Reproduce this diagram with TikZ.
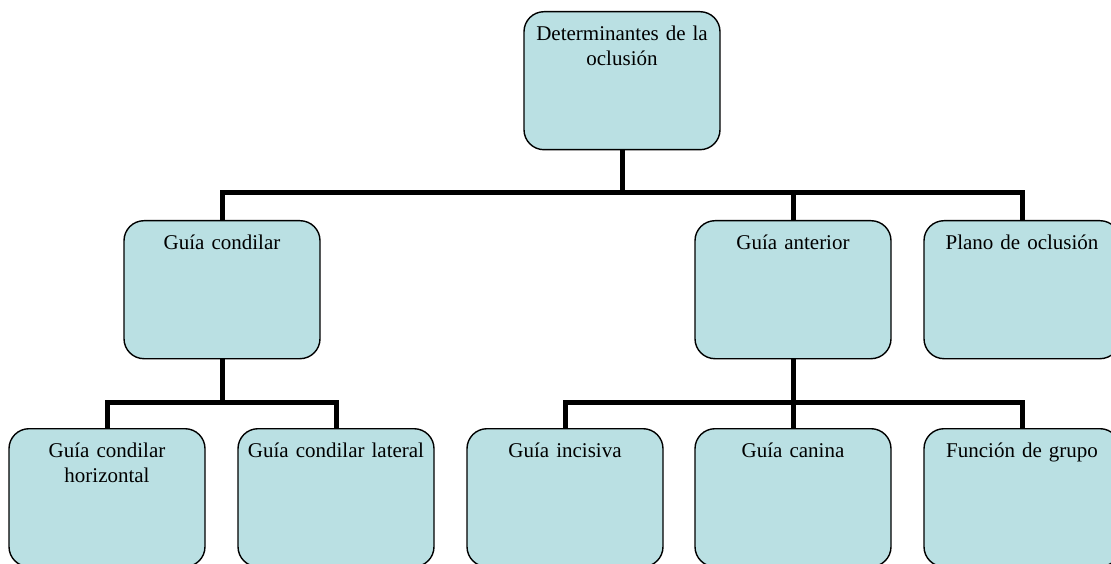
\documentclass[tikz,border=0pt]{standalone}
\usepackage{fontspec}
\setmainfont{Liberation Serif}
\definecolor{cajafill}{RGB}{186,224,227}

\begin{document}
\begin{tikzpicture}[
    x=1pt, y=-1pt,
    every node/.style={font=\fontsize{21}{25}\selectfont},
    caja/.style={draw, rounded corners=20pt, fill=cajafill, line width=1.4pt,
        anchor=north, text width=190pt, align=center,
        inner xsep=3pt, inner ysep=6pt, text height=23pt, text depth=103pt},
    conector/.style={line width=5pt}
]
\useasboundingbox (0,0) rectangle (1111,564);

% === BOXES ===
\node[caja] (det) at (622,11) {Determinantes de la\\oclusión};
\node[caja] (condilar) at (222,220) {Guía condilar};
\node[caja] (anterior) at (793,220) {Guía anterior};
\node[caja] (plano) at (1022,220) {Plano de oclusión};
\node[caja] (horiz) at (107,428) {Guía condilar\\horizontal};
\node[caja] (lateral) at (336,428) {Guía condilar lateral};
\node[caja] (incisiva) at (565,428) {Guía incisiva};
\node[caja] (canina) at (793,428) {Guía canina};
\node[caja] (grupo) at (1022,428) {Función de grupo};

% === BUS POINTS ===
\coordinate (bus1) at (622,193);
\coordinate (bus2) at (222,402);
\coordinate (bus3) at (793,402);

% === CONNECTORS ===
\draw[conector] (det.south) -- (bus1);
\draw[conector] (condilar.north) |- (bus1) -| (plano.north);
\draw[conector] (anterior.north) -- (anterior.north |- bus1);
\draw[conector] (condilar.south) -- (bus2);
\draw[conector] (horiz.north) |- (bus2) -| (lateral.north);
\draw[conector] (anterior.south) -- (bus3) -- (canina.north);
\draw[conector] (incisiva.north) |- (bus3) -| (grupo.north);

\end{tikzpicture}
\end{document}
